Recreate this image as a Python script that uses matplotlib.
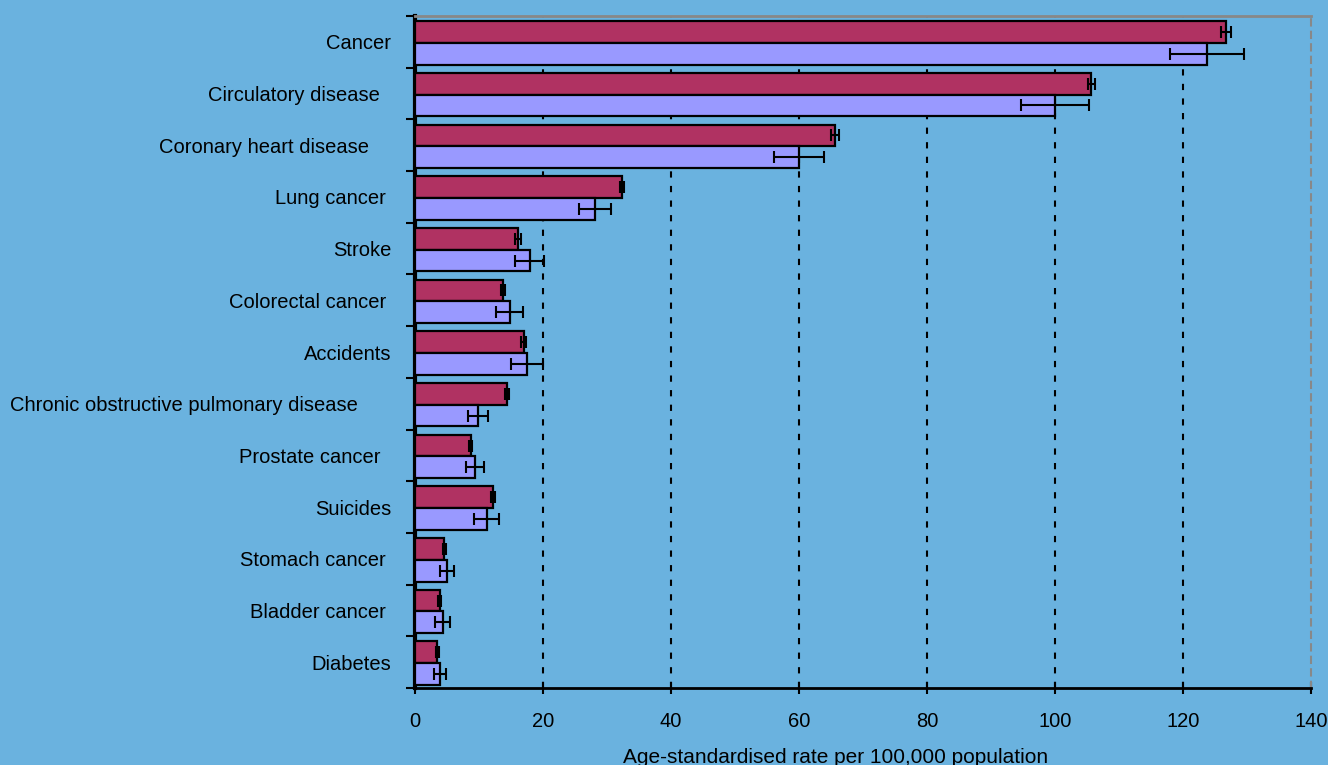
import matplotlib
matplotlib.use("Agg")
import matplotlib.pyplot as plt
import numpy as np

categories = ["Cancer", "Circulatory disease  ", "Coronary heart disease    ", "Lung cancer ",
              "Stroke", "Colorectal cancer ", "Accidents", "Chronic obstructive pulmonary disease      ",
              "Prostate cancer  ", "Suicides", "Stomach cancer ", "Bladder cancer ", "Diabetes"]
series_a = [126.7, 105.7, 65.6, 32.3, 16.1, 13.7, 17.0, 14.4, 8.7, 12.2, 4.6, 3.85, 3.5]
err_a = [0.8, 0.5, 0.6, 0.3, 0.4, 0.3, 0.4, 0.3, 0.2, 0.35, 0.2, 0.2, 0.2]
series_b = [123.7, 100.0, 60.0, 28.1, 17.9, 14.8, 17.5, 9.8, 9.4, 11.2, 5.0, 4.3, 3.9]
err_b = [5.8, 5.3, 3.9, 2.5, 2.2, 2.15, 2.45, 1.55, 1.4, 1.95, 1.1, 1.15, 1.0]
xticks = [0, 20, 40, 60, 80, 100, 120, 140]

bg = "#6AB2DF"
col_a = "#B03262"
col_b = "#9999FF"

plt.rcParams['font.family'] = ['Liberation Sans', 'DejaVu Sans']

fig = plt.figure(figsize=(13.28, 7.65), dpi=100, facecolor=bg)
ax = fig.add_axes([415/1328, 1-688/765, (1311-415)/1328, (688-16)/765])
ax.set_facecolor(bg)

y = np.arange(len(categories))
h = 0.42
ax.barh(y - 0.19, series_a, height=h, color=col_a, edgecolor="black", linewidth=1.6, zorder=3)
ax.barh(y + 0.23, series_b, height=h, color=col_b, edgecolor="black", linewidth=1.6, zorder=3)
ekw = dict(fmt="none", ecolor="black", elinewidth=1.5, capsize=4, capthick=1.5, zorder=4)
ax.errorbar(series_a, y - 0.19, xerr=err_a, **ekw)
ax.errorbar(series_b, y + 0.23, xerr=err_b, **ekw)

ax.set_xlim(0, 140)
ax.set_ylim(len(categories) - 0.5, -0.5)
ax.set_xticks(xticks)
ax.set_xticklabels([str(t) for t in xticks], fontsize=14.5)
ax.tick_params(axis='x', direction='inout', length=9, width=1.5, pad=13, colors='black')

ax.set_yticks(np.arange(len(categories) + 1) - 0.5)
ax.set_yticklabels([])
ax.set_yticks(y, minor=True)
ax.set_yticklabels(categories, minor=True, fontsize=14.5)
ax.tick_params(axis='y', which='major', direction='out', length=6.5, width=1.5)
ax.tick_params(axis='y', which='minor', length=0, pad=17)

for gx in xticks[1:-1]:
    ax.axvline(gx, color="black", linestyle=(0, (3, 4)), linewidth=1.5, zorder=1)

ax.spines['left'].set_linewidth(3)
ax.spines['left'].set_color('black')
ax.spines['bottom'].set_linewidth(2)
ax.spines['bottom'].set_color('black')
ax.spines['top'].set_color('#888888')
ax.spines['top'].set_linewidth(2)
ax.spines['right'].set_color('#888888')
ax.spines['right'].set_linewidth(1.5)
ax.spines['right'].set_linestyle((0, (3, 3)))

fig.text(836/1328, 2/765, "Age-standardised rate per 100,000 population", ha='center', va='baseline', fontsize=15)

fig.savefig("out.png", dpi=100, facecolor=bg)
